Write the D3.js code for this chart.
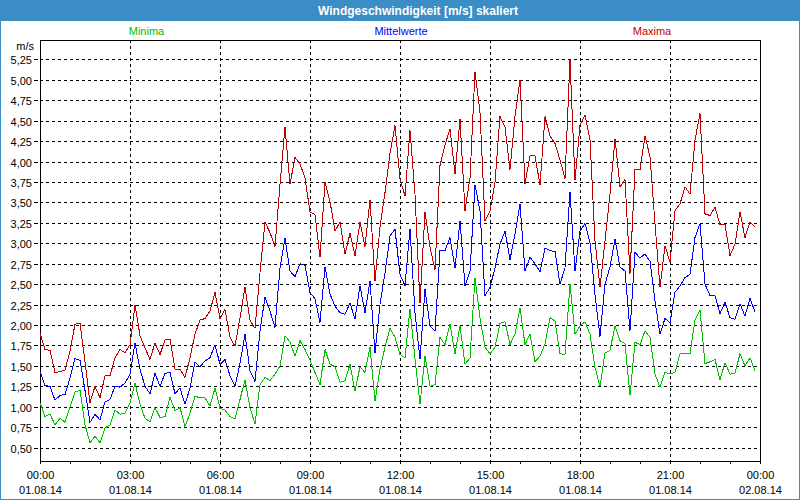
<!DOCTYPE html>
<html><head><meta charset="utf-8">
<script src="https://cdn.jsdelivr.net/npm/d3@7"></script>
<style>
html,body{margin:0;padding:0;background:#fff;}
svg{display:block;}
text{font-family:"Liberation Sans",Arial,sans-serif;}
</style></head>
<body>
<svg id="c" width="800" height="500"></svg>
<script>
const title = "Windgeschwindigkeit [m/s] skaliert";
const seriesNames = ["Minima", "Mittelwerte", "Maxima"];
const unitLabel = "m/s";
const yTicks = [0.5,0.75,1.0,1.25,1.5,1.75,2.0,2.25,2.5,2.75,3.0,3.25,3.5,3.75,4.0,4.25,4.5,4.75,5.0,5.25];
const xTickHours = [0,3,6,9,12,15,18,21,24];
const xTimeLabels = ["00:00","03:00","06:00","09:00","12:00","15:00","18:00","21:00","00:00"];
const xDateLabels = ["01.08.14","01.08.14","01.08.14","01.08.14","01.08.14","01.08.14","01.08.14","01.08.14","02.08.14"];
const stepMinutes = 10;

const maxima = [1.90,1.70,1.69,1.42,1.43,1.45,1.68,2.01,2.02,1.55,1.05,1.25,1.11,1.38,1.38,1.60,1.70,1.66,1.76,2.25,
1.87,1.72,1.58,1.78,1.64,1.82,1.83,1.46,1.46,1.36,1.60,1.89,2.06,2.08,2.17,2.40,2.08,2.19,1.85,1.74,
2.09,2.46,2.06,1.96,2.64,3.26,3.13,2.96,3.72,4.42,3.72,4.05,3.97,3.80,3.38,3.35,2.83,3.75,3.51,3.15,
3.26,2.87,3.12,2.85,3.26,2.96,3.53,2.54,3.20,3.62,4.10,4.44,3.79,3.58,4.38,3.60,2.27,3.38,2.95,2.68,
3.95,4.20,4.40,3.85,4.52,3.40,3.80,5.10,4.60,3.27,3.39,3.75,4.55,4.42,3.90,4.55,5.00,3.73,4.07,4.07,
3.71,4.55,4.31,4.22,4.02,3.79,5.24,3.77,4.45,4.57,4.27,3.03,2.46,3.03,3.60,4.28,3.69,3.78,2.63,3.90,
3.90,4.31,4.06,3.24,2.46,2.97,2.77,3.40,3.48,3.69,3.60,4.26,4.59,3.36,3.34,3.44,3.23,3.23,2.85,2.99,
3.38,3.07,3.26,3.20];
const mittelwerte = [1.44,1.26,1.25,1.08,1.14,1.15,1.35,1.59,1.57,1.20,0.81,0.91,0.84,1.06,1.09,1.25,1.24,1.29,1.40,1.78,
1.46,1.25,1.16,1.41,1.25,1.41,1.42,1.16,1.23,1.03,1.23,1.55,1.49,1.56,1.60,1.76,1.52,1.58,1.38,1.25,
1.53,1.89,1.44,1.31,1.93,2.34,2.17,1.97,2.70,3.06,2.66,2.59,2.75,2.73,2.40,2.32,2.03,2.71,2.38,2.23,
2.15,2.13,2.27,2.07,2.48,2.15,2.54,1.66,2.25,2.64,3.09,3.17,2.62,2.48,3.18,2.15,1.58,2.44,1.99,1.93,
2.91,2.91,3.07,2.70,3.27,2.48,2.66,3.71,3.40,2.36,2.46,2.70,2.99,3.15,2.80,3.11,3.48,2.66,2.83,2.75,
2.65,2.94,2.91,2.90,2.50,2.70,3.63,2.66,3.15,3.24,3.01,2.37,1.86,2.50,2.71,3.05,2.71,2.66,1.93,2.89,
2.82,2.87,2.78,2.29,1.89,2.08,2.03,2.40,2.48,2.58,2.62,3.07,3.24,2.50,2.36,2.36,2.14,2.28,2.09,2.07,
2.26,2.11,2.33,2.16];
const minima = [1.05,0.88,0.91,0.78,0.86,0.81,1.00,1.18,1.20,0.78,0.56,0.64,0.56,0.74,0.78,0.96,0.91,0.92,1.05,1.29,
1.03,0.86,0.82,0.99,0.87,0.88,1.12,0.95,0.99,0.76,0.92,1.13,1.11,1.11,1.01,1.23,0.98,0.96,0.88,0.85,
1.09,1.33,0.99,0.79,1.27,1.36,1.32,1.40,1.50,1.87,1.79,1.62,1.81,1.70,1.57,1.42,1.27,1.70,1.52,1.49,
1.30,1.32,1.52,1.19,1.49,1.42,1.73,1.07,1.46,1.73,1.96,1.85,1.64,1.60,2.20,1.58,1.03,1.62,1.25,1.27,
1.85,1.76,2.01,1.65,1.99,1.52,1.60,2.58,2.09,1.73,1.65,1.73,2.02,2.04,1.76,1.89,2.21,1.76,1.89,1.55,
1.62,1.77,2.09,2.05,1.65,1.64,2.50,1.89,1.99,2.04,1.89,1.48,1.25,1.66,1.69,1.99,1.81,1.77,1.14,1.79,
1.76,1.93,1.85,1.40,1.24,1.42,1.40,1.42,1.65,1.65,1.65,2.06,2.18,1.53,1.55,1.58,1.33,1.54,1.40,1.41,
1.65,1.50,1.60,1.44];

const colors = {Minima:"#00c000", Mittelwerte:"#0000ff", Maxima:"#c00000"};
const W = 800, H = 500;
const plot = {left:40, right:760, top:40, bottom:461};

const svg = d3.select("#c");
const x = d3.scaleLinear().domain([0, 1440]).range([plot.left, plot.right]);
const y = d3.scaleLinear().domain([0.5, 5.25]).range([447.7, 59.3]);

// outer frame
svg.append("rect").attr("x",0.5).attr("y",0.5).attr("width",W-1).attr("height",H-1)
  .attr("fill","#fff").attr("stroke","#3b8dc5");
// title bar
svg.append("rect").attr("x",0).attr("y",0).attr("width",W).attr("height",21).attr("fill","#3b8dc5");
svg.append("text").attr("x",418).attr("y",15).attr("text-anchor","middle")
  .attr("fill","#fff").attr("font-weight","bold").attr("font-size",12).text(title);

// legend
const legendX = [146.5, 401, 652];
seriesNames.forEach((n,i)=>{
  svg.append("text").attr("x",legendX[i]).attr("y",35).attr("text-anchor","middle")
    .attr("font-size",11).attr("fill",colors[n]).text(n);
});

// gridlines
const g = svg.append("g").attr("shape-rendering","crispEdges");
yTicks.forEach(v=>{
  const yy = Math.round(y(v)) + 0.5;
  g.append("line").attr("x1",plot.left).attr("x2",plot.right).attr("y1",yy).attr("y2",yy)
    .attr("stroke","#000").attr("stroke-dasharray","3,3");
  g.append("line").attr("x1",34).attr("x2",38).attr("y1",yy).attr("y2",yy).attr("stroke","#000");
  svg.append("text").attr("x",32).attr("y",yy+4).attr("text-anchor","end").attr("font-size",11)
    .attr("fill","#000").text(d3.format(".2f")(v).replace(".",","));
});
svg.append("text").attr("x",34).attr("y",50).attr("text-anchor","end").attr("font-size",11).text(unitLabel);

xTickHours.forEach((h,i)=>{
  const xx = Math.round(x(h*60)) + 0.5;
  if (h>0 && h<24) {
    g.append("line").attr("x1",xx).attr("x2",xx).attr("y1",plot.top).attr("y2",plot.bottom)
      .attr("stroke","#000").attr("stroke-dasharray","3,3");
  }
  svg.append("text").attr("x",xx).attr("y",479).attr("text-anchor","middle").attr("font-size",11).text(xTimeLabels[i]);
  svg.append("text").attr("x",xx).attr("y",494).attr("text-anchor","middle").attr("font-size",11).text(xDateLabels[i]);
});
d3.range(0,25).forEach(h=>{
  const xx = Math.round(x(h*60)) + 0.5;
  g.append("line").attr("x1",xx).attr("x2",xx).attr("y1",plot.bottom).attr("y2",plot.bottom+3).attr("stroke","#000");
});

// frame
g.append("rect").attr("x",plot.left+0.5).attr("y",plot.top+0.5)
  .attr("width",plot.right-plot.left).attr("height",plot.bottom-plot.top)
  .attr("fill","none").attr("stroke","#000");

// lines
const data = {Minima:minima, Mittelwerte:mittelwerte, Maxima:maxima};
const line = d3.line().x((d,i)=>x(i*stepMinutes)).y(d=>y(d));
["Minima","Mittelwerte","Maxima"].forEach(n=>{
  svg.append("path").datum(data[n]).attr("d",line).attr("fill","none")
    .attr("stroke",colors[n]).attr("stroke-width",1).attr("shape-rendering","crispEdges");
});
</script>
</body></html>
